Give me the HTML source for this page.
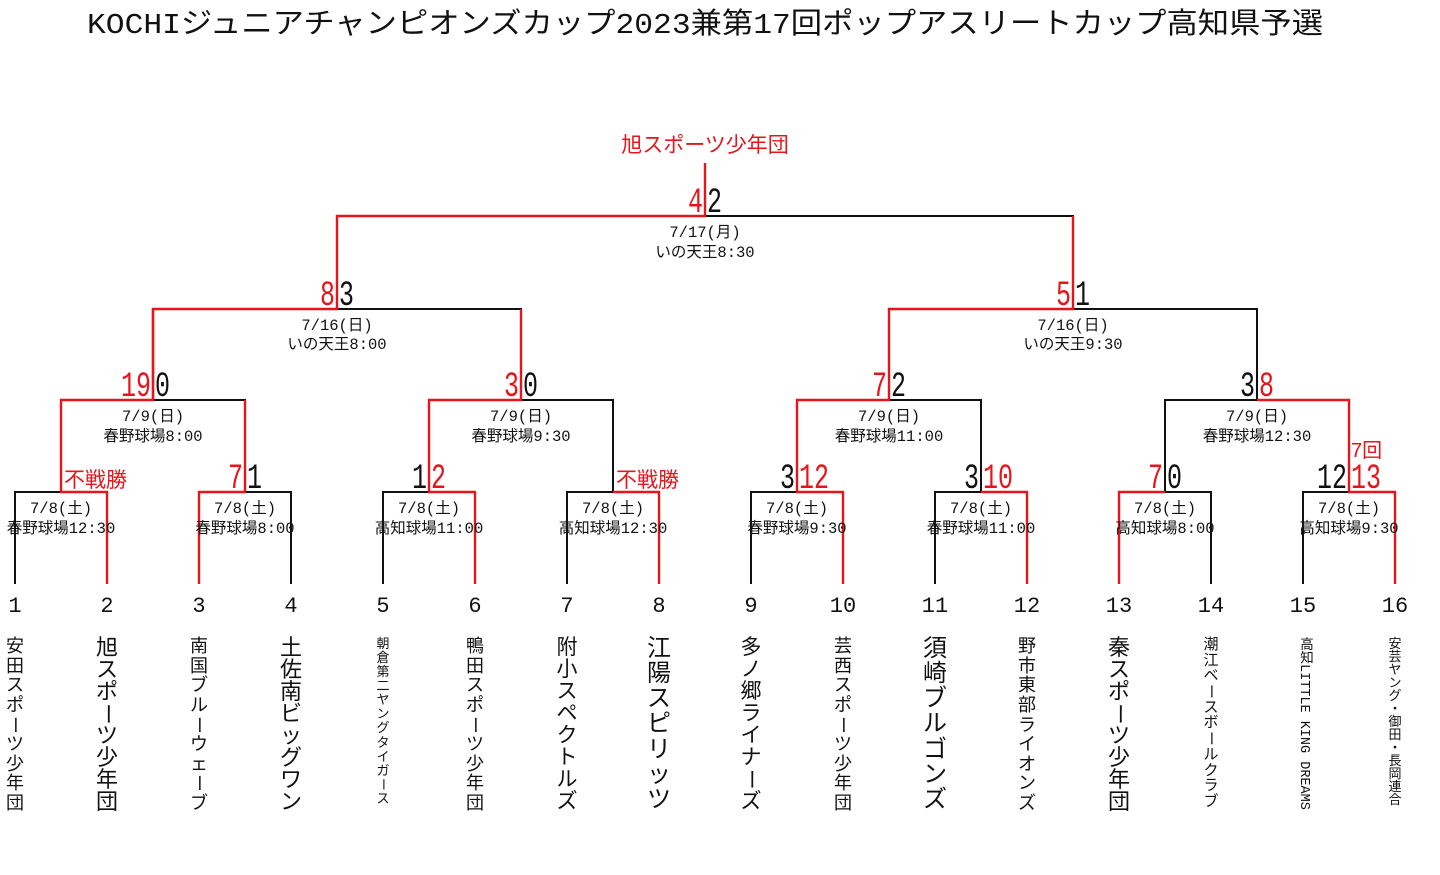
<!DOCTYPE html>
<html><head><meta charset="utf-8"><style>
html,body{margin:0;padding:0;background:#fff;width:1440px;height:875px;overflow:hidden}
.n{position:absolute;top:637px;height:175px;display:flex;flex-direction:column;justify-content:space-between;align-items:center;font-family:"Liberation Sans","Noto Sans CJK JP",sans-serif;color:#111;line-height:1}
.n span{display:block}
.n span.r{writing-mode:vertical-rl}
.v{position:absolute;top:637px;writing-mode:vertical-rl;font-family:"Liberation Mono","Noto Sans CJK JP",monospace;color:#111}
</style></head><body>
<svg width="1440" height="875" style="position:absolute;left:0;top:0" font-family="'Liberation Mono','Noto Sans CJK JP',monospace">
<text x="705" y="33" font-size="29" text-anchor="middle" textLength="1236" lengthAdjust="spacingAndGlyphs" fill="#111">KOCHIジュニアチャンピオンズカップ2023兼第17回ポップアスリートカップ高知県予選</text>
<g stroke-width="2" fill="none" stroke="#111">
<path d="M15 584V492H61"/><path d="M245 492H291V584"/><path d="M383 584V492H429"/><path d="M567 584V492H613"/>
<path d="M751 584V492H797"/><path d="M935 584V492H981"/><path d="M1165 492H1211V584"/><path d="M1303 584V492H1349"/>
<path d="M153 400H245V492"/><path d="M521 400H613V492"/><path d="M889 400H981V492"/><path d="M1165 492V400H1257"/>
<path d="M337 309H521V400"/><path d="M1073 309H1257V400"/>
<path d="M705 216H1073V309"/>
</g>
<g stroke-width="2.4" fill="none" stroke="#e8141b">
<path d="M107 584V492H61V400H153V309H337V216H705V163"/>
<path d="M199 584V492H245V400"/>
<path d="M475 584V492H429V400H521V309"/>
<path d="M659 584V492H613"/>
<path d="M843 584V492H797V400H889V309H1073V216"/>
<path d="M1027 584V492H981"/>
<path d="M1119 584V492H1165"/>
<path d="M1395 584V492H1349V400H1257"/>
<path d="M153 309V400"/>
</g>
<g font-size="22" fill="#111" text-anchor="middle">
<text x="15" y="612">1</text><text x="107" y="612">2</text><text x="199" y="612">3</text><text x="291" y="612">4</text>
<text x="383" y="612">5</text><text x="475" y="612">6</text><text x="567" y="612">7</text><text x="659" y="612">8</text>
<text x="751" y="612">9</text><text x="843" y="612">10</text><text x="935" y="612">11</text><text x="1027" y="612">12</text>
<text x="1119" y="612">13</text><text x="1211" y="612">14</text><text x="1303" y="612">15</text><text x="1395" y="612">16</text>
</g>
<g font-size="15.5" fill="#111" text-anchor="middle">
<text x="705" y="237">7/17(月)</text><text x="705" y="257">いの天王8:30</text>
<text x="337" y="330">7/16(日)</text><text x="337" y="349">いの天王8:00</text>
<text x="1073" y="330">7/16(日)</text><text x="1073" y="349">いの天王9:30</text>
<text x="153" y="421">7/9(日)</text><text x="153" y="441">春野球場8:00</text>
<text x="521" y="421">7/9(日)</text><text x="521" y="441">春野球場9:30</text>
<text x="889" y="421">7/9(日)</text><text x="889" y="441">春野球場11:00</text>
<text x="1257" y="421">7/9(日)</text><text x="1257" y="441">春野球場12:30</text>
<text x="61" y="513">7/8(土)</text><text x="61" y="533">春野球場12:30</text>
<text x="245" y="513">7/8(土)</text><text x="245" y="533">春野球場8:00</text>
<text x="429" y="513">7/8(土)</text><text x="429" y="533">高知球場11:00</text>
<text x="613" y="513">7/8(土)</text><text x="613" y="533">高知球場12:30</text>
<text x="797" y="513">7/8(土)</text><text x="797" y="533">春野球場9:30</text>
<text x="981" y="513">7/8(土)</text><text x="981" y="533">春野球場11:00</text>
<text x="1165" y="513">7/8(土)</text><text x="1165" y="533">高知球場8:00</text>
<text x="1349" y="513">7/8(土)</text><text x="1349" y="533">高知球場9:30</text>
</g>
<g font-size="35">
<text x="688" y="212" textLength="15" lengthAdjust="spacingAndGlyphs" fill="#e8141b">4</text><text x="707" y="212" textLength="15" lengthAdjust="spacingAndGlyphs" fill="#111">2</text>
<text x="320" y="305" textLength="15" lengthAdjust="spacingAndGlyphs" fill="#e8141b">8</text><text x="339" y="305" textLength="15" lengthAdjust="spacingAndGlyphs" fill="#111">3</text>
<text x="1056" y="305" textLength="15" lengthAdjust="spacingAndGlyphs" fill="#e8141b">5</text><text x="1075" y="305" textLength="15" lengthAdjust="spacingAndGlyphs" fill="#111">1</text>
<text x="121" y="396" textLength="30" lengthAdjust="spacingAndGlyphs" fill="#e8141b">19</text><text x="155" y="396" textLength="15" lengthAdjust="spacingAndGlyphs" fill="#111">0</text>
<text x="504" y="396" textLength="15" lengthAdjust="spacingAndGlyphs" fill="#e8141b">3</text><text x="523" y="396" textLength="15" lengthAdjust="spacingAndGlyphs" fill="#111">0</text>
<text x="872" y="396" textLength="15" lengthAdjust="spacingAndGlyphs" fill="#e8141b">7</text><text x="891" y="396" textLength="15" lengthAdjust="spacingAndGlyphs" fill="#111">2</text>
<text x="1240" y="396" textLength="15" lengthAdjust="spacingAndGlyphs" fill="#111">3</text><text x="1259" y="396" textLength="15" lengthAdjust="spacingAndGlyphs" fill="#e8141b">8</text>
<text x="228" y="488" textLength="15" lengthAdjust="spacingAndGlyphs" fill="#e8141b">7</text><text x="247" y="488" textLength="15" lengthAdjust="spacingAndGlyphs" fill="#111">1</text>
<text x="412" y="488" textLength="15" lengthAdjust="spacingAndGlyphs" fill="#111">1</text><text x="431" y="488" textLength="15" lengthAdjust="spacingAndGlyphs" fill="#e8141b">2</text>
<text x="780" y="488" textLength="15" lengthAdjust="spacingAndGlyphs" fill="#111">3</text><text x="799" y="488" textLength="30" lengthAdjust="spacingAndGlyphs" fill="#e8141b">12</text>
<text x="964" y="488" textLength="15" lengthAdjust="spacingAndGlyphs" fill="#111">3</text><text x="983" y="488" textLength="30" lengthAdjust="spacingAndGlyphs" fill="#e8141b">10</text>
<text x="1148" y="488" textLength="15" lengthAdjust="spacingAndGlyphs" fill="#e8141b">7</text><text x="1167" y="488" textLength="15" lengthAdjust="spacingAndGlyphs" fill="#111">0</text>
<text x="1317" y="488" textLength="30" lengthAdjust="spacingAndGlyphs" fill="#111">12</text><text x="1351" y="488" textLength="30" lengthAdjust="spacingAndGlyphs" fill="#e8141b">13</text>
</g>
<g fill="#e8141b" font-family="'Liberation Sans','Noto Sans CJK JP',sans-serif">
<text x="705" y="152" font-size="21" text-anchor="middle">旭スポーツ少年団</text>
<text x="64" y="487" font-size="21">不戦勝</text>
<text x="616" y="487" font-size="21">不戦勝</text>
<text x="1351" y="457" font-size="20">7回</text>
</g>
</svg>
<div class="n" style="left:5px;width:20px;font-size:18px"><span>安</span><span>田</span><span>ス</span><span>ポ</span><span class="r">ー</span><span>ツ</span><span>少</span><span>年</span><span>団</span></div>
<div class="n" style="left:95px;width:24px;font-size:22px"><span>旭</span><span>ス</span><span>ポ</span><span class="r">ー</span><span>ツ</span><span>少</span><span>年</span><span>団</span></div>
<div class="n" style="left:189px;width:20px;font-size:18px"><span>南</span><span>国</span><span>ブ</span><span>ル</span><span class="r">ー</span><span>ウ</span><span>ェ</span><span class="r">ー</span><span>ブ</span></div>
<div class="n" style="left:279px;width:24px;font-size:22px"><span>土</span><span>佐</span><span>南</span><span>ビ</span><span>ッ</span><span>グ</span><span>ワ</span><span>ン</span></div>
<div class="n" style="left:375px;width:16px;font-size:13px;height:168px"><span>朝</span><span>倉</span><span>第</span><span>二</span><span>ヤ</span><span>ン</span><span>グ</span><span>タ</span><span>イ</span><span>ガ</span><span class="r">ー</span><span>ス</span></div>
<div class="n" style="left:465px;width:20px;font-size:18px"><span>鴨</span><span>田</span><span>ス</span><span>ポ</span><span class="r">ー</span><span>ツ</span><span>少</span><span>年</span><span>団</span></div>
<div class="n" style="left:555px;width:24px;font-size:21px"><span>附</span><span>小</span><span>ス</span><span>ペ</span><span>ク</span><span>ト</span><span>ル</span><span>ズ</span></div>
<div class="n" style="left:646px;width:26px;font-size:24px"><span>江</span><span>陽</span><span>ス</span><span>ピ</span><span>リ</span><span>ッ</span><span>ツ</span></div>
<div class="n" style="left:739px;width:24px;font-size:21px"><span>多</span><span>ノ</span><span>郷</span><span>ラ</span><span>イ</span><span>ナ</span><span class="r">ー</span><span>ズ</span></div>
<div class="n" style="left:833px;width:20px;font-size:18px"><span>芸</span><span>西</span><span>ス</span><span>ポ</span><span class="r">ー</span><span>ツ</span><span>少</span><span>年</span><span>団</span></div>
<div class="n" style="left:922px;width:26px;font-size:24px"><span>須</span><span>崎</span><span>ブ</span><span>ル</span><span>ゴ</span><span>ン</span><span>ズ</span></div>
<div class="n" style="left:1017px;width:20px;font-size:18px"><span>野</span><span>市</span><span>東</span><span>部</span><span>ラ</span><span>イ</span><span>オ</span><span>ン</span><span>ズ</span></div>
<div class="n" style="left:1107px;width:24px;font-size:22px"><span>秦</span><span>ス</span><span>ポ</span><span class="r">ー</span><span>ツ</span><span>少</span><span>年</span><span>団</span></div>
<div class="n" style="left:1203px;width:16px;font-size:15px;height:172px"><span>潮</span><span>江</span><span>ベ</span><span class="r">ー</span><span>ス</span><span>ボ</span><span class="r">ー</span><span>ル</span><span>ク</span><span>ラ</span><span>ブ</span></div>
<div class="v" style="left:1294px;font-size:13.5px;line-height:18px;height:176px">高知LITTLE KING DREAMS</div>
<div class="n" style="left:1387px;width:16px;font-size:13px;height:168px"><span>安</span><span>芸</span><span>ヤ</span><span>ン</span><span>グ</span><span>・</span><span>御</span><span>田</span><span>・</span><span>長</span><span>岡</span><span>連</span><span>合</span></div>
</body></html>
